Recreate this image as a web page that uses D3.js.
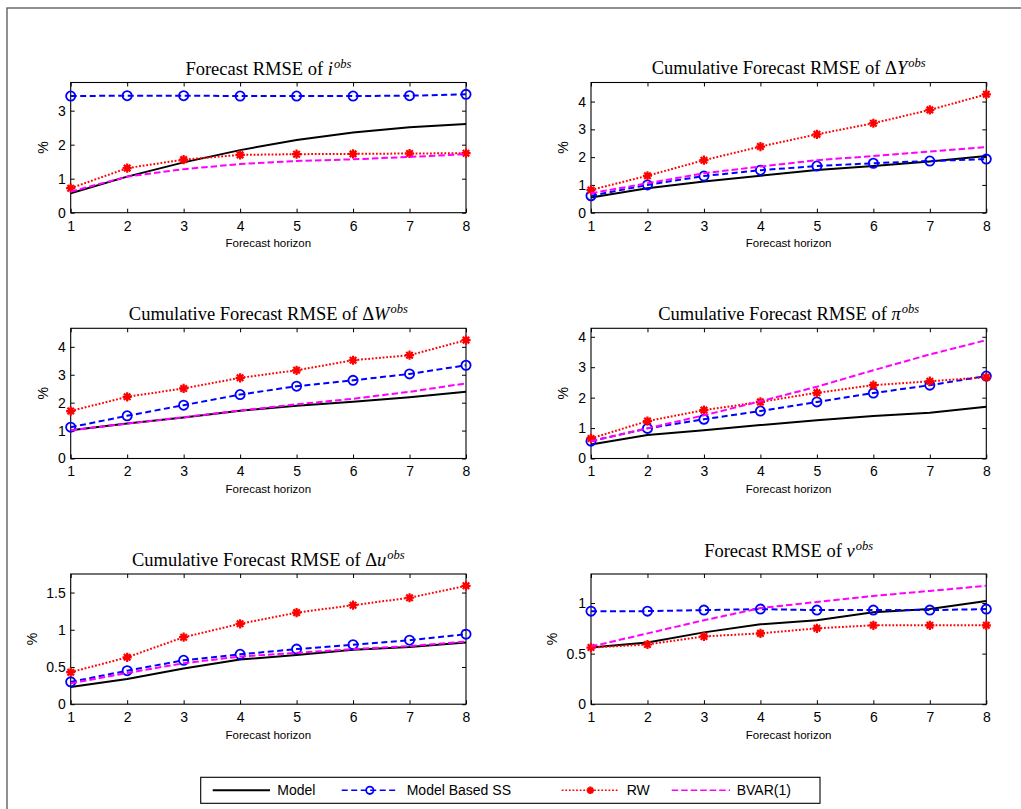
<!DOCTYPE html>
<html>
<head>
<meta charset="utf-8">
<script src="https://cdn.jsdelivr.net/npm/d3@7"></script>
<style>
	body { margin: 0; background: #fff; }
	svg { display: block; }
	.tick text { font-family: "Liberation Sans", Arial, sans-serif; font-size: 14px; fill: #000; }
	.tick line { stroke: #000; stroke-width: 1; }
	.title { font-family: "Liberation Serif", "Times New Roman", serif; font-size: 18.5px; fill: #000; }
	.xlabel { font-family: "Liberation Sans", Arial, sans-serif; font-size: 11.5px; fill: #000; }
	.ylabel { font-family: "Liberation Sans", Arial, sans-serif; font-size: 14px; fill: #000; }
	.legend text { font-family: "Liberation Sans", Arial, sans-serif; font-size: 14px; fill: #000; }
</style>
</head>
<body>
<div class="chart"></div>
<script>
//---->DATA<-----//
const horizons = [1, 2, 3, 4, 5, 6, 7, 8];
const seriesNames = ['Model', 'Model Based SS', 'RW', 'BVAR(1)'];

// Forecast RMSE of i
const iModel = [0.57, 1.06, 1.48, 1.84, 2.14, 2.36, 2.51, 2.61];
const iSS = [3.43, 3.44, 3.44, 3.43, 3.43, 3.43, 3.44, 3.48];
const iRW = [0.72, 1.31, 1.56, 1.70, 1.72, 1.73, 1.74, 1.75];
const iBVAR = [0.62, 1.06, 1.28, 1.43, 1.52, 1.57, 1.64, 1.72];

// Cumulative forecast RMSE of dY
const dyModel = [0.55, 0.88, 1.12, 1.33, 1.54, 1.68, 1.84, 2.04];
const dySS = [0.61, 1.00, 1.32, 1.53, 1.68, 1.78, 1.86, 1.93];
const dyRW = [0.82, 1.33, 1.89, 2.38, 2.82, 3.22, 3.70, 4.26];
const dyBVAR = [0.70, 1.06, 1.42, 1.66, 1.89, 2.04, 2.20, 2.36];

// Cumulative forecast RMSE of dW
const dwModel = [1.01, 1.25, 1.47, 1.71, 1.89, 2.03, 2.19, 2.39];
const dwSS = [1.12, 1.53, 1.91, 2.29, 2.59, 2.80, 3.03, 3.34];
const dwRW = [1.70, 2.21, 2.51, 2.89, 3.16, 3.52, 3.70, 4.24];
const dwBVAR = [1.01, 1.25, 1.48, 1.72, 1.94, 2.14, 2.39, 2.69];

// Cumulative forecast RMSE of pi
const piModel = [0.46, 0.77, 0.93, 1.10, 1.26, 1.40, 1.50, 1.70];
const piSS = [0.57, 0.99, 1.29, 1.56, 1.86, 2.15, 2.41, 2.71];
const piRW = [0.66, 1.23, 1.59, 1.86, 2.16, 2.41, 2.54, 2.67];
const piBVAR = [0.57, 0.99, 1.42, 1.88, 2.36, 2.90, 3.42, 3.89];

// Cumulative forecast RMSE of du
const duModel = [0.23, 0.34, 0.48, 0.60, 0.66, 0.73, 0.77, 0.83];
const duSS = [0.30, 0.45, 0.59, 0.67, 0.74, 0.80, 0.86, 0.94];
const duRW = [0.43, 0.63, 0.90, 1.08, 1.23, 1.33, 1.43, 1.59];
const duBVAR = [0.28, 0.42, 0.55, 0.64, 0.69, 0.74, 0.78, 0.84];

// Forecast RMSE of v
const vModel = [0.56, 0.61, 0.71, 0.79, 0.83, 0.91, 0.94, 1.02];
const vSS = [0.92, 0.92, 0.93, 0.94, 0.93, 0.93, 0.93, 0.94];
const vRW = [0.56, 0.59, 0.67, 0.70, 0.75, 0.78, 0.78, 0.78];
const vBVAR = [0.57, 0.70, 0.83, 0.95, 1.01, 1.07, 1.12, 1.17];

const yTicksInt3 = [0, 1, 2, 3];
const yTicksInt4 = [0, 1, 2, 3, 4];
const yTicksDu = [0, 0.5, 1, 1.5];
const yTicksV = [0, 0.5, 1];

const panels = [
	{ pre: 'Forecast RMSE of ', sym: 'i', series: [iModel, iSS, iRW, iBVAR], ticks: yTicksInt3 },
	{ pre: 'Cumulative Forecast RMSE of \u0394', sym: 'Y', series: [dyModel, dySS, dyRW, dyBVAR], ticks: yTicksInt4 },
	{ pre: 'Cumulative Forecast RMSE of \u0394', sym: 'W', series: [dwModel, dwSS, dwRW, dwBVAR], ticks: yTicksInt4 },
	{ pre: 'Cumulative Forecast RMSE of ', sym: '\u03c0', series: [piModel, piSS, piRW, piBVAR], ticks: yTicksInt4 },
	{ pre: 'Cumulative Forecast RMSE of \u0394', sym: 'u', series: [duModel, duSS, duRW, duBVAR], ticks: yTicksDu },
	{ pre: 'Forecast RMSE of ', sym: 'v', series: [vModel, vSS, vRW, vBVAR], ticks: yTicksV }
];

//---->LAYOUT<-----//
const outerW = 1021,
	outerH = 809;

const colLeft = [70.7, 591],
	rowTop = [82.5, 328.3, 574],
	plotW = 395.3,
	plotH = 130.2;

const titleRaise = [7.5, 8.5, 8.3, 8.3, 8, 17.5];

const styles = [
	{ color: '#000', dash: null, marker: null },
	{ color: '#0000ff', dash: '6,3.5', marker: 'circle' },
	{ color: '#ff0000', dash: '1.8,1.8', marker: 'star' },
	{ color: '#ff00ff', dash: '6.5,3', marker: null }
];

const fmt = d3.format('~g');

const svg = d3.select('.chart').append('svg')
	.attr('width', outerW)
	.attr('height', outerH);

// outer frame of the figure page
svg.append('rect')
	.attr('x', 7)
	.attr('y', 8)
	.attr('width', 1100)
	.attr('height', 900)
	.attr('fill', 'none')
	.attr('stroke', '#555')
	.attr('stroke-width', 1.3);

const starPath = (s) => {
	const d = s * Math.SQRT1_2;
	return `M${-s},0L${s},0M0,${-s}L0,${s}M${-d},${-d}L${d},${d}M${-d},${d}L${d},${-d}`;
};

function drawMarker(sel, type, color, scale = 1) {
	if (type === 'circle') {
		sel.append('circle')
			.attr('r', 4.6 * scale)
			.attr('fill', 'none')
			.attr('stroke', color)
			.attr('stroke-width', 1.8);
	} else if (type === 'star') {
		sel.append('path')
			.attr('d', starPath(4.6 * scale))
			.attr('fill', 'none')
			.attr('stroke', color)
			.attr('stroke-width', 2.2);
	}
}

panels.forEach((p, i) => {
	const left = colLeft[i % 2],
		top = rowTop[Math.floor(i / 2)];

	const yMax = d3.max(p.series.flat()) * 1.1;

	const x = d3.scaleLinear().domain([1, 8]).range([0, plotW]);
	const y = d3.scaleLinear().domain([0, yMax]).range([plotH, 0]);

	const g = svg.append('g')
		.attr('transform', `translate(${left}, ${top})`);

	// axes with inward ticks on every side
	g.append('g')
		.attr('class', 'x axis')
		.attr('transform', `translate(0, ${plotH})`)
		.call(d3.axisBottom(x).tickValues(horizons).tickSize(-4).tickPadding(8).tickSizeOuter(0)
			.tickFormat(fmt));

	g.append('g')
		.attr('class', 'x axis top')
		.call(d3.axisTop(x).tickValues(horizons).tickSize(-4).tickFormat('').tickSizeOuter(0));

	g.append('g')
		.attr('class', 'y axis')
		.call(d3.axisLeft(y).tickValues(p.ticks).tickSize(-4).tickPadding(5).tickSizeOuter(0)
			.tickFormat(fmt));

	g.append('g')
		.attr('class', 'y axis right')
		.attr('transform', `translate(${plotW}, 0)`)
		.call(d3.axisRight(y).tickValues(p.ticks).tickSize(-4).tickFormat('').tickSizeOuter(0));

	g.selectAll('.domain').remove();

	g.append('rect')
		.attr('width', plotW)
		.attr('height', plotH)
		.attr('fill', 'none')
		.attr('stroke', '#000')
		.attr('stroke-width', 1.1);

	// series lines
	const line = d3.line()
		.x((d, j) => x(horizons[j]))
		.y(d => y(d));

	p.series.forEach((vals, k) => {
		const st = styles[k];
		g.append('path')
			.datum(vals)
			.attr('fill', 'none')
			.attr('stroke', st.color)
			.attr('stroke-width', 2)
			.attr('stroke-dasharray', st.dash)
			.attr('d', line);

		if (st.marker) {
			g.selectAll(null)
				.data(vals)
				.enter().append('g')
				.attr('transform', (d, j) => `translate(${x(horizons[j])}, ${y(d)})`)
				.each(function() { drawMarker(d3.select(this), st.marker, st.color); });
		}
	});

	// title
	const title = g.append('text')
		.attr('class', 'title')
		.attr('x', plotW / 2)
		.attr('y', -titleRaise[i])
		.attr('text-anchor', 'middle');
	title.append('tspan').text(p.pre);
	title.append('tspan').attr('font-style', 'italic').text(p.sym);
	title.append('tspan')
		.attr('font-style', 'italic')
		.attr('font-size', '12.5px')
		.attr('dx', 1)
		.attr('dy', -7)
		.text('obs');

	// axis labels
	g.append('text')
		.attr('class', 'xlabel')
		.attr('x', plotW / 2)
		.attr('y', plotH + 34.5)
		.attr('text-anchor', 'middle')
		.text('Forecast horizon');

	const hasDecimals = p.ticks.some(t => t % 1 !== 0);
	g.append('text')
		.attr('class', 'ylabel')
		.attr('transform', `translate(${hasDecimals ? -34 : -23}, ${plotH / 2}) rotate(-90)`)
		.attr('text-anchor', 'middle')
		.text('%');
});

//---->LEGEND<-----//
const legend = svg.append('g')
	.attr('class', 'legend');

legend.append('rect')
	.attr('x', 200.7)
	.attr('y', 777.3)
	.attr('width', 619.3)
	.attr('height', 26)
	.attr('fill', '#fff')
	.attr('stroke', '#000')
	.attr('stroke-width', 1.1);

const legendItems = [
	{ x0: 212.7, x1: 270, tx: 277.3 },
	{ x0: 341.7, x1: 398, tx: 406.7 },
	{ x0: 561.7, x1: 619, tx: 626.7 },
	{ x0: 671.7, x1: 730, tx: 736.7 }
];

const legendY = 790.3;

seriesNames.forEach((name, k) => {
	const st = styles[k],
		li = legendItems[k];
	legend.append('line')
		.attr('x1', li.x0)
		.attr('x2', li.x1)
		.attr('y1', legendY)
		.attr('y2', legendY)
		.attr('stroke', st.color)
		.attr('stroke-width', k === 0 ? 2 : 1.6)
		.attr('stroke-dasharray', st.dash);
	if (st.marker) {
		const m = legend.append('g')
			.attr('transform', `translate(${(li.x0 + li.x1) / 2}, ${legendY})`);
		drawMarker(m, st.marker, st.color, 0.8);
	}
	legend.append('text')
		.attr('x', li.tx)
		.attr('y', legendY)
		.attr('dy', '0.35em')
		.text(name);
});
</script>
</body>
</html>
